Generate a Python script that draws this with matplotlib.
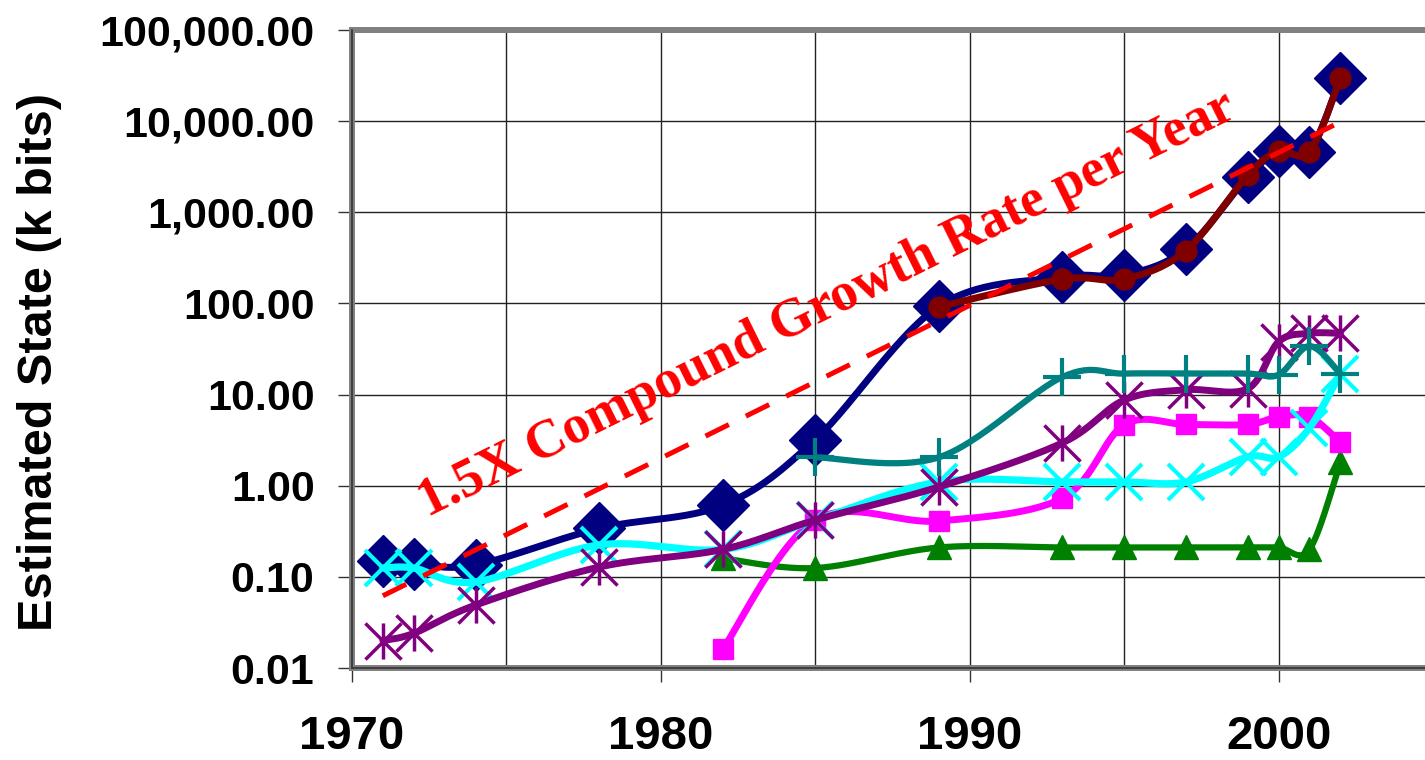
import numpy as np
import matplotlib
matplotlib.use('Agg')
import matplotlib.pyplot as plt
from matplotlib.path import Path
from matplotlib.ticker import FixedLocator, FuncFormatter

# Годы и значения рядов (k bits)
years_full = [1971, 1972, 1974, 1978, 1982, 1985, 1989, 1993, 1995, 1997, 1999, 2000, 2001, 2002]
navy_vals = [0.15, 0.14, 0.135, 0.34, 0.61, 3.2, 93, 195, 205, 395, 2450, 4650, 4600, 29500]
purple_vals = [0.020, 0.024, 0.049, 0.128, 0.20, 0.42, 0.97, 2.95, 8.7, 11.3, 11.6, 38, 47, 47]
cyan_vals = [0.125, 0.125, 0.088, 0.224, 0.20, 0.42, 1.1, 1.1, 1.1, 1.1, 2.07, 2.07, 4.3, 17]

years_maroon = [1989, 1993, 1995, 1997, 1999, 2000, 2001, 2002]
maroon_vals = [92, 185, 185, 380, 2550, 4700, 4600, 29500]

years_late = [1982, 1985, 1989, 1993, 1995, 1997, 1999, 2000, 2001, 2002]
magenta_vals = [0.016, 0.42, 0.41, 0.73, 4.65, 4.7, 4.7, 5.7, 5.7, 3.0]
green_vals = [0.16, 0.125, 0.21, 0.21, 0.21, 0.21, 0.21, 0.21, 0.20, 1.8]

years_teal = [1985, 1989, 1993, 1995, 1997, 1999, 2000, 2001, 2002]
teal_vals = [2.05, 2.05, 15.6, 17, 17, 17, 16.5, 34, 17]

trend_years = [1971, 2002]
trend_vals = [0.062, 9800]

y_ticks = [0.01, 0.1, 1, 10, 100, 1000, 10000, 100000]
x_ticks = [1970, 1980, 1990, 2000]
x_grid = [1975, 1985, 1995, 2005]


def smooth(xs, ys, steps=30):
    # сглаженная линия как в Excel (Безье по Катмулл-Рому в лог. масштабе)
    x = np.asarray(xs, float)
    y = np.log10(np.asarray(ys, float))
    px = np.concatenate([[x[0]], x, [x[-1]]])
    py = np.concatenate([[y[0]], y, [y[-1]]])
    t = np.linspace(0, 1, steps)
    ox, oy = [], []
    for i in range(len(x) - 1):
        p0 = np.array([px[i + 1], py[i + 1]])
        p3 = np.array([px[i + 2], py[i + 2]])
        p1 = p0 + (p3 - np.array([px[i], py[i]])) / 6
        p2 = p3 - (np.array([px[i + 3], py[i + 3]]) - p0) / 6
        b = ((1 - t) ** 3)[:, None] * p0 + (3 * (1 - t) ** 2 * t)[:, None] * p1 \
            + (3 * (1 - t) * t ** 2)[:, None] * p2 + (t ** 3)[:, None] * p3
        ox.append(b[:, 0])
        oy.append(b[:, 1])
    return np.concatenate(ox), 10 ** np.concatenate(oy)


asterisk = Path([(0, -1), (0, 1), (-1, -1), (1, 1), (-1, 1), (1, -1)],
                [Path.MOVETO, Path.LINETO] * 3)

fig = plt.figure(figsize=(14.25, 7.6), dpi=100)
ax = fig.add_axes([352 / 1425, 92 / 760, (1433 - 352) / 1425, 638 / 760])
ax.set_yscale('log')
ax.set_xlim(1970, 2005)
ax.set_ylim(0.01, 100000)

series = [
    # годы, значения, цвет, толщина, маркер, размер, заливка, толщина маркера
    (years_full, navy_vals, '#000080', 5.0, 'D', 26, True, 1),
    (years_maroon, maroon_vals, '#800000', 5.0, 'o', 15, True, 1),
    (years_late, green_vals, '#008000', 4.5, '^', 17, True, 1),
    (years_late, magenta_vals, '#FF00FF', 5.0, 's', 14, True, 1),
    (years_full, cyan_vals, '#00FFFF', 5.2, 'x', 26, False, 3),
    (years_full, purple_vals, '#800080', 5.0, asterisk, 26, False, 2.5),
    (years_teal, teal_vals, '#008080', 4.5, '+', 27, False, 3),
]

z = 3
for xs, ys, col, lw, mk, ms, filled, mew in series:
    sx, sy = smooth(xs, ys)
    ax.plot(sx, sy, color=col, lw=lw, solid_capstyle='round', zorder=z)
    if filled:
        ax.plot(xs, ys, ls='none', marker=mk, ms=ms, color=col, mec=col, zorder=z + 0.5)
    else:
        ax.plot(xs, ys, ls='none', marker=mk, ms=ms, mec=col, mew=mew, zorder=z + 0.5)
    z += 1

# линия тренда 1.5X в год
ax.plot(trend_years, trend_vals, color='#FF0000', lw=3.6, dashes=(5.2, 3.8), zorder=20)

fig.canvas.draw()
p = ax.transData.transform([[trend_years[0], trend_vals[0]], [trend_years[1], trend_vals[1]]])
angle = np.degrees(np.arctan2(p[1, 1] - p[0, 1], p[1, 0] - p[0, 0]))
ax.text(1985.4, 97, '1.5X Compound Growth Rate per Year', color='#FF0000',
        fontsize=39, fontweight='bold', family='Liberation Serif',
        rotation=angle, rotation_mode='anchor', ha='center', va='center', zorder=21)

# оси и сетка
ax.yaxis.set_major_locator(FixedLocator(y_ticks))
ax.yaxis.set_minor_locator(FixedLocator([]))
ax.yaxis.set_major_formatter(FuncFormatter(lambda v, pos: f'{v:,.2f}'))
ax.set_xticks(x_ticks)
ax.set_xticks(x_grid, minor=True)
ax.grid(True, which='both', color='#222222', lw=1.0, zorder=1)
ax.tick_params(axis='x', which='minor', length=0)
ax.tick_params(axis='both', which='major', length=10, width=1, color='#333333')
ax.tick_params(axis='y', pad=17)
ax.tick_params(axis='x', pad=24)
for lab in ax.get_yticklabels():
    lab.set_fontfamily('Liberation Sans')
    lab.set_fontweight('bold')
    lab.set_fontsize(31)
for lab in ax.get_xticklabels():
    lab.set_fontfamily('Liberation Sans')
    lab.set_fontweight('bold')
    lab.set_fontsize(34)

for s in ['top', 'left', 'bottom']:
    ax.spines[s].set_color('#808080')
    ax.spines[s].set_linewidth(4.3)
ax.spines['right'].set_visible(False)
ax.plot([0, 0], [0, 1], transform=ax.transAxes, color='#333333', lw=1.2, clip_on=False, zorder=30)
ax.plot([0, 1], [0, 0], transform=ax.transAxes, color='#333333', lw=1.2, clip_on=False, zorder=30)

fig.text(40 / 1425, 1 - 362 / 760, 'Estimated State (k bits)', rotation=90,
         ha='center', va='center', fontsize=35, fontweight='bold', family='Liberation Sans')

fig.savefig('out.png', dpi=100)
